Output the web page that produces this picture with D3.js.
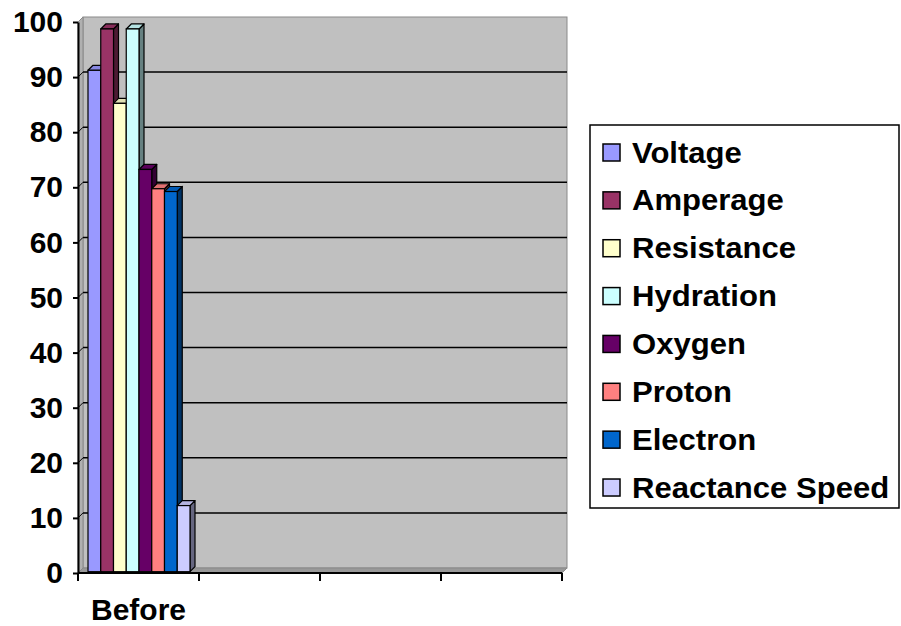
<!DOCTYPE html>
<html>
<head>
<meta charset="utf-8">
<script src="https://cdn.jsdelivr.net/npm/d3@7"></script>
<style>
  html, body { margin: 0; padding: 0; background: #ffffff; }
  svg { display: block; }
  text { font-family: "Liberation Sans", Arial, sans-serif; font-weight: bold; fill: #000; }
</style>
</head>
<body>
<svg id="chart" width="901" height="626"></svg>
<script>
// ---- data ----
const categories = ["c1", "c2", "c3", "c4"];
const categoryLabels = ["Before", "", "", ""];
const seriesNames = ["Voltage", "Amperage", "Resistance", "Hydration", "Oxygen", "Proton", "Electron", "Reactance Speed"];
const seriesColors = ["#9999FF", "#993366", "#FFFFCC", "#CCFFFF", "#660066", "#FF8080", "#0066CC", "#CCCCFF"];
const beforeValues = [91, 98.5, 85, 98.5, 73, 69.5, 69, 12];
const yTicks = [0, 10, 20, 30, 40, 50, 60, 70, 80, 90, 100];

const svg = d3.select("#chart");
const depth = { dx: 5, dy: -5 };     // 3D depth of walls
const barDepth = { dx: 5, dy: -5 };  // 3D depth of bars

const x = d3.scaleBand().domain(categories).range([78, 562]).paddingInner(0).paddingOuter(0);
const y = d3.scaleLinear().domain([0, 100]).range([573, 22]);
const xs = d3.scaleBand().domain(seriesNames)
  .range([x("c1") + 10, x("c1") + x.bandwidth() - 9]).paddingInner(0).paddingOuter(0);

const x0 = x.range()[0], x1 = x.range()[1];
const yb = y(0), yt = y(100);

// ---- walls ----
svg.append("rect")
  .attr("x", x0 + depth.dx).attr("y", yt + depth.dy)
  .attr("width", x1 - x0).attr("height", yb - yt)
  .attr("fill", "#C0C0C0").attr("stroke", "#8a8a8a").attr("stroke-width", 1);
svg.append("polygon")
  .attr("points", [[x0, yb], [x0, yt], [x0 + depth.dx, yt + depth.dy], [x0 + depth.dx, yb + depth.dy]].map(p => p.join(",")).join(" "))
  .attr("fill", "#b0b0b0").attr("stroke", "#8a8a8a").attr("stroke-width", 1);
svg.append("polygon")
  .attr("points", [[x0, yb], [x1, yb], [x1 + depth.dx, yb + depth.dy], [x0 + depth.dx, yb + depth.dy]].map(p => p.join(",")).join(" "))
  .attr("fill", "#999999").attr("stroke", "#8a8a8a").attr("stroke-width", 1);

// gridlines
const grid = svg.append("g");
yTicks.filter(t => t > 0 && t < 100).forEach(t => {
  grid.append("line")
    .attr("x1", x0 + depth.dx).attr("x2", x1 + depth.dx)
    .attr("y1", y(t) + depth.dy).attr("y2", y(t) + depth.dy)
    .attr("stroke", "#000").attr("stroke-width", 1.5);
  grid.append("line")
    .attr("x1", x0).attr("x2", x0 + depth.dx)
    .attr("y1", y(t)).attr("y2", y(t) + depth.dy)
    .attr("stroke", "#000").attr("stroke-width", 1);
});

// ---- bars ----
const barBase = yb - 1.3;
const bars = svg.append("g");
seriesNames.forEach((name, i) => {
  const v = beforeValues[i];
  const c = d3.color(seriesColors[i]);
  const bx = xs(name), bw = xs.bandwidth();
  const top = barBase - (yb - y(v));
  const g = bars.append("g");
  const side = d3.rgb(c.r * 0.5, c.g * 0.5, c.b * 0.5);
  const topC = c.darker(0.35);
  g.append("polygon")
    .attr("points", [[bx + bw, barBase], [bx + bw, top], [bx + bw + barDepth.dx, top + barDepth.dy], [bx + bw + barDepth.dx, barBase + barDepth.dy]].map(p => p.join(",")).join(" "))
    .attr("fill", side).attr("stroke", "#000").attr("stroke-width", 1.2).attr("stroke-linejoin", "round");
  g.append("polygon")
    .attr("points", [[bx, top], [bx + bw, top], [bx + bw + barDepth.dx, top + barDepth.dy], [bx + barDepth.dx, top + barDepth.dy]].map(p => p.join(",")).join(" "))
    .attr("fill", topC).attr("stroke", "#000").attr("stroke-width", 1.2).attr("stroke-linejoin", "round");
  g.append("rect")
    .attr("x", bx).attr("y", top).attr("width", bw).attr("height", barBase - top)
    .attr("fill", c).attr("stroke", "#000").attr("stroke-width", 1.2);
});

// ---- axes ----
const yAxis = d3.axisLeft(y).tickValues(yTicks).tickSize(5).tickSizeOuter(0).tickPadding(10);
const ya = svg.append("g").attr("transform", `translate(${x0},0)`).call(yAxis);
ya.select(".domain").attr("stroke", "#000").attr("stroke-width", 2);
ya.selectAll(".tick line").attr("stroke", "#000").attr("stroke-width", 2);
ya.selectAll(".tick text").attr("font-size", 30).attr("font-family", "Liberation Sans, Arial, sans-serif").attr("font-weight", "bold").attr("fill", "#000");

svg.append("line").attr("x1", x0).attr("x2", x1).attr("y1", yb).attr("y2", yb)
  .attr("stroke", "#000").attr("stroke-width", 2);
const bounds = categories.map(c => x(c)).concat([x1]);
bounds.forEach(b => {
  svg.append("line").attr("x1", b).attr("x2", b).attr("y1", yb).attr("y2", yb + 8)
    .attr("stroke", "#000").attr("stroke-width", 2);
});
categories.forEach((c, i) => {
  svg.append("text")
    .attr("x", x(c) + x.bandwidth() / 2).attr("y", 620)
    .attr("text-anchor", "middle").attr("font-size", 30)
    .text(categoryLabels[i]);
});

// ---- legend ----
const lg = svg.append("g");
lg.append("rect").attr("x", 590).attr("y", 125).attr("width", 309).attr("height", 383)
  .attr("fill", "#fff").attr("stroke", "#000").attr("stroke-width", 1.5);
seriesNames.forEach((name, i) => {
  const cy = 152.5 + i * 47.86;
  lg.append("rect").attr("x", 603).attr("y", cy - 8.5).attr("width", 17).attr("height", 17)
    .attr("fill", seriesColors[i]).attr("stroke", "#000").attr("stroke-width", 1.5);
  const t = lg.append("text").attr("x", 632).attr("y", cy + 10).attr("font-size", 30).text(name);
  const w = t.node().getComputedTextLength();
  t.attr("textLength", w * 1.035).attr("lengthAdjust", "spacingAndGlyphs");
});
</script>
</body>
</html>
